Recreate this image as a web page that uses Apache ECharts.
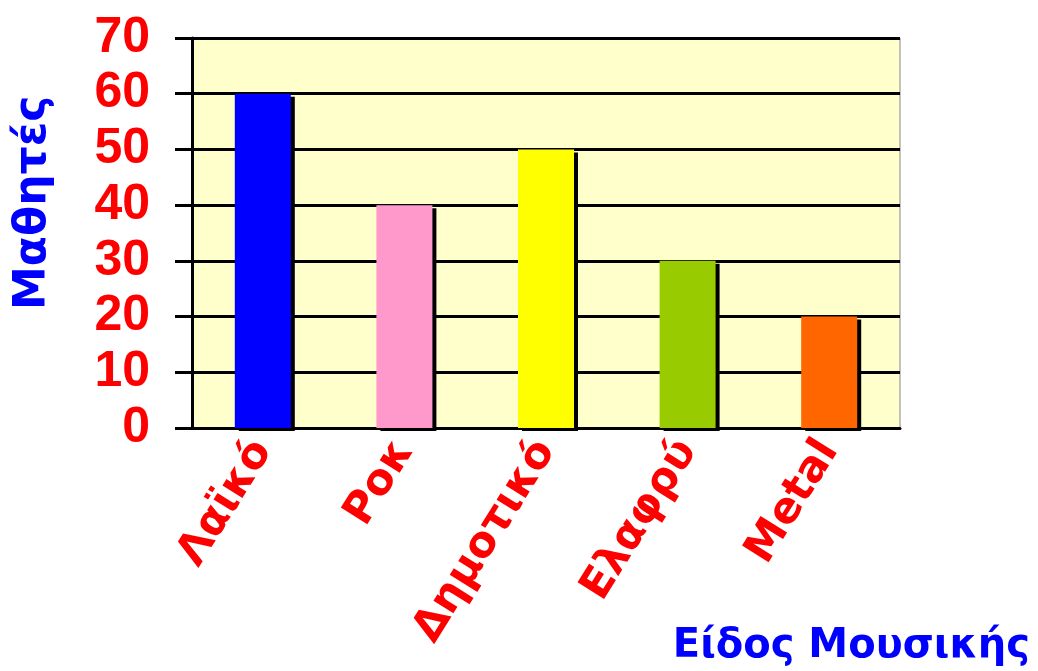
<!DOCTYPE html>
<html>
<head>
<meta charset="utf-8">
<script src="https://cdn.jsdelivr.net/npm/echarts@6/dist/echarts.min.js"></script>
<style>
  html, body { margin: 0; padding: 0; background: #fff; }
  #chart { width: 1038px; height: 671px; }
</style>
</head>
<body>
<div id="chart"></div>
<script>
// δεδομένα του γραφήματος
var categories = ['Λαϊκό', 'Ροκ', 'Δημοτικό', 'Ελαφρύ', 'Metal'];
var students = [60, 40, 50, 30, 20];
var barColors = ['#0000FF', '#FF99CC', '#FFFF00', '#99CC00', '#FF6600'];

var chart = echarts.init(document.getElementById('chart'));
chart.setOption({
  animation: false,
  grid: {
    left: 192, right: 138, top: 38, bottom: 243,
    show: true,
    backgroundColor: '#FFFFCC',
    borderColor: '#888',
    borderWidth: 1
  },
  xAxis: {
    type: 'category',
    data: categories,
    axisLine: { lineStyle: { color: '#000', width: 3 } },
    axisTick: { length: 15, lineStyle: { color: '#888', width: 2 } },
    axisLabel: {
      rotate: 58,
      margin: 16,
      color: '#FF0000',
      fontFamily: 'DejaVu Sans',
      fontWeight: 'bold',
      fontSize: 43
    }
  },
  yAxis: {
    type: 'value',
    min: 0,
    max: 70,
    interval: 10,
    axisLine: { show: true, lineStyle: { color: '#000', width: 3 } },
    axisTick: { show: true, length: 17, lineStyle: { color: '#000', width: 3 } },
    splitLine: { lineStyle: { color: '#000', width: 3 } },
    axisLabel: {
      margin: 42,
      color: '#FF0000',
      fontFamily: 'Liberation Sans',
      fontWeight: 'bold',
      fontSize: 50
    }
  },
  graphic: [{
    // τίτλος άξονα y
    type: 'text',
    x: 12,
    y: 310,
    rotation: Math.PI / 2,
    style: {
      text: 'Μαθητές',
      fill: '#0000FF',
      fontFamily: 'DejaVu Sans',
      fontWeight: 'bold',
      fontSize: 44
    }
  }, {
    // τίτλος άξονα x
    type: 'text',
    right: 8,
    bottom: 4,
    style: {
      text: 'Είδος Μουσικής',
      fill: '#0000FF',
      fontFamily: 'DejaVu Sans',
      fontWeight: 'bold',
      fontSize: 40
    }
  }],
  series: [{
    type: 'bar',
    barWidth: 56,
    data: students.map(function (v, i) {
      return { value: v, itemStyle: { color: barColors[i] } };
    }),
    itemStyle: {
      shadowColor: '#000',
      shadowOffsetX: 4,
      shadowOffsetY: 3,
      shadowBlur: 0
    }
  }]
});
</script>
</body>
</html>
